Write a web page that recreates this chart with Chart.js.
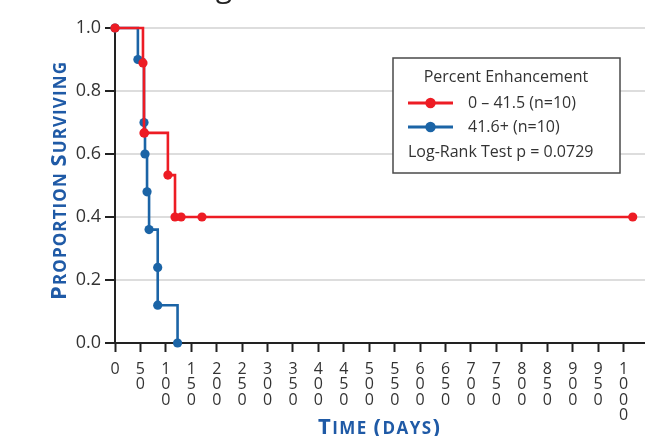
<!DOCTYPE html>
<html><head><meta charset="utf-8">
<script src="https://cdn.jsdelivr.net/npm/chart.js@4.4.1/dist/chart.umd.min.js"></script>
<style>html,body{margin:0;padding:0;overflow:hidden;background:#fff;width:645px;height:436px}canvas{display:block}</style>
</head><body>
<canvas id="c" width="689" height="436"></canvas>
<script>
// ---- data ----
const groupNames = ['0 \u2013 41.5 (n=10)', '41.6+ (n=10)'];
const redTimes  = [0, 55, 57, 58, 104, 118, 130, 171, 1018];
const redSurv   = [1, 0.889, 0.667, 0.667, 0.533, 0.4, 0.4, 0.4, 0.4];
const blueTimes = [0, 45, 57, 59, 63, 67, 84, 84, 123];
const blueSurv  = [1, 0.9, 0.7, 0.6, 0.48, 0.36, 0.24, 0.12, 0];
const yTickValues = [0, 0.2, 0.4, 0.6, 0.8, 1.0];
const xTickMin = 0, xTickMax = 1100, xTickStep = 50;
const legendTitle = 'Percent Enhancement';
const statText = 'Log-Rank Test p = 0.0729';
const xTitle = 'Time (days)';
const yTitle = 'Proportion Surviving';
const titleFragment = 'g';

const RED = '#ed1c24', BLUE = '#1b64a6', TITLE_BLUE = '#1f5aa6';
const FONT = '"Open Sans", "Noto Sans", sans-serif';

function pts(t, s) { return t.map((v, i) => ({x: v, y: s[i]})); }

function smallCaps(ctx, text, cx, baseY, target, big, small, color) {
  const parts = [];
  for (const ch of text) {
    const isBig = /[A-Z()]/.test(ch);
    parts.push({ch: ch.toUpperCase(), font: 'bold ' + (isBig ? big : small) + 'px ' + FONT});
  }
  let sum = 0;
  parts.forEach(p => { ctx.font = p.font; p.w = ctx.measureText(p.ch).width; sum += p.w; });
  const sp = (target - sum) / (parts.length - 1);
  let x = cx - target / 2;
  ctx.fillStyle = color; ctx.textBaseline = 'alphabetic'; ctx.textAlign = 'left';
  parts.forEach(p => { ctx.font = p.font; ctx.fillText(p.ch, x, baseY); x += p.w + sp; });
}

const decorPlugin = {
  id: 'decor',
  afterDraw(chart) {
    const ctx = chart.ctx;
    ctx.save();
    ctx.fillStyle = '#222'; ctx.font = '30px ' + FONT; ctx.textAlign = 'center'; ctx.textBaseline = 'alphabetic';
    ctx.fillText(titleFragment, 224, -3);
    smallCaps(ctx, xTitle, 379, 434, 122, 22, 17, TITLE_BLUE);
    ctx.save();
    ctx.translate(66, 181); ctx.rotate(-Math.PI / 2);
    smallCaps(ctx, yTitle, 0, 0, 238, 22, 17, TITLE_BLUE);
    ctx.restore();
    ctx.fillStyle = '#fff'; ctx.strokeStyle = '#4a4a4a'; ctx.lineWidth = 1.5;
    ctx.fillRect(393, 58, 227, 115); ctx.strokeRect(393, 58, 227, 115);
    ctx.fillStyle = '#333'; ctx.font = '16px ' + FONT; ctx.textAlign = 'center'; ctx.textBaseline = 'middle';
    ctx.fillText(legendTitle, 506, 77);
    chart.data.datasets.forEach((ds, i) => {
      const y = 103 + i * 24;
      ctx.strokeStyle = ds.borderColor; ctx.lineWidth = 3;
      ctx.beginPath(); ctx.moveTo(408, y); ctx.lineTo(453, y); ctx.stroke();
      ctx.fillStyle = ds.borderColor;
      ctx.beginPath(); ctx.arc(430.5, y, 5.2, 0, Math.PI * 2); ctx.fill();
      ctx.fillStyle = '#333'; ctx.textAlign = 'left';
      ctx.fillText(ds.label, 468, y);
    });
    ctx.textAlign = 'left';
    ctx.fillText(statText, 408, 152);
    ctx.restore();
  }
};

new Chart(document.getElementById('c'), {
  type: 'line',
  data: {
    datasets: [
      {label: groupNames[0], data: pts(redTimes, redSurv), borderColor: RED, backgroundColor: RED,
       pointBackgroundColor: RED, pointBorderColor: RED},
      {label: groupNames[1], data: pts(blueTimes, blueSurv), borderColor: BLUE, backgroundColor: BLUE,
       pointBackgroundColor: BLUE, pointBorderColor: BLUE}
    ]
  },
  options: {
    responsive: false, animation: false, devicePixelRatio: 1,
    layout: {padding: {top: 28, right: 2, left: 0, bottom: 0}},
    elements: {
      line: {stepped: 'before', borderWidth: 2.6, tension: 0, fill: false},
      point: {radius: 4.6, borderWidth: 0, hoverRadius: 4.6}
    },
    datasets: {line: {clip: false}},
    plugins: {legend: {display: false}, tooltip: {enabled: false}, title: {display: false}},
    scales: {
      x: {
        type: 'linear', min: xTickMin, max: xTickMax,
        afterFit: s => { s.height = 93; },
        border: {color: '#222', width: 2},
        grid: {drawOnChartArea: false, drawTicks: true, tickLength: 9, tickColor: '#222', tickWidth: 2},
        ticks: {stepSize: xTickStep, autoSkip: false, maxRotation: 0, minRotation: 0, padding: 10,
          color: '#333', font: {family: FONT, size: 16, lineHeight: 0.95},
          callback: v => String(v).split('')}
      },
      y: {
        min: 0, max: 1,
        afterFit: s => { s.width = 115; },
        afterBuildTicks: s => { s.ticks = yTickValues.map(v => ({value: v})); },
        border: {color: '#222', width: 2},
        grid: {color: '#dddddd', lineWidth: 2, tickLength: 10, tickColor: '#222', tickWidth: 2},
        ticks: {padding: 4, color: '#333', font: {family: FONT, size: 18},
          callback: v => Number(v).toFixed(1)}
      }
    }
  },
  plugins: [decorPlugin]
});
</script>
</body></html>
